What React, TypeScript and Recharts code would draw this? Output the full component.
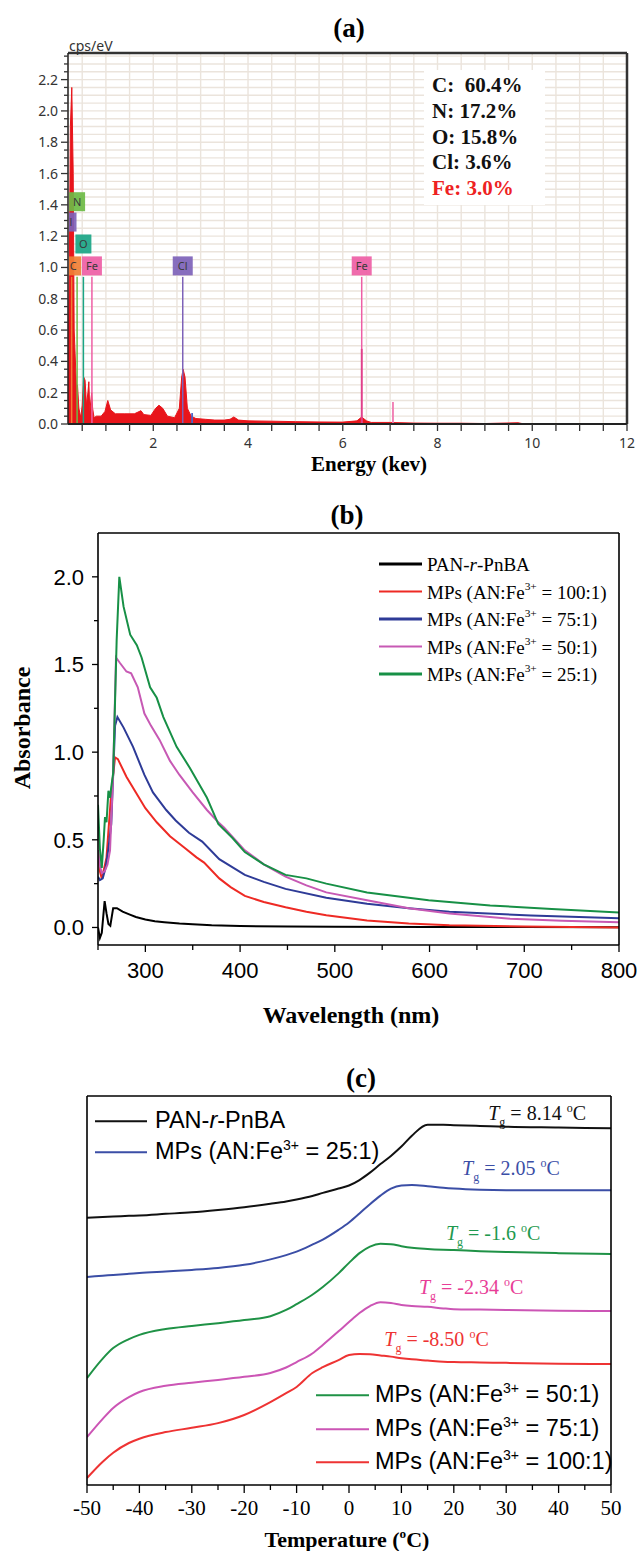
import React from 'react'
import {
  ComposedChart, Line, Area, XAxis, YAxis, CartesianGrid, ReferenceLine, ReferenceDot,
} from 'recharts'

// ---------- (a) EDS spectrum ----------
const edsEnergy = [
  0.2, 0.225, 0.25, 0.28, 0.31, 0.33, 0.35, 0.38, 0.4, 0.43,
  0.47, 0.5, 0.53, 0.56, 0.59, 0.62, 0.64, 0.66, 0.7, 0.72,
  0.75, 0.8, 0.9, 0.98, 1.04, 1.1, 1.2, 1.4, 1.6, 1.74,
  1.8, 1.95, 2.05, 2.12, 2.2, 2.3, 2.45, 2.55, 2.6, 2.63,
  2.67, 2.72, 2.8, 2.9, 3.1, 3.3, 3.5, 3.62, 3.7, 3.8,
  4.0, 4.5, 5.0, 5.5, 6.0, 6.3, 6.4, 6.5, 6.6, 7.0,
  7.5, 8.0, 8.5, 9.0, 9.7, 9.8, 10.0, 12.0,
]
const edsCps = [
  0.35, 0.9, 1.9, 2.15, 1.6, 0.6, 0.45, 0.22, 0.25, 0.1,
  0.04, 0.12, 0.3, 0.28, 0.12, 0.2, 0.27, 0.08, 0.2, 0.1,
  0.04, 0.05, 0.05, 0.08, 0.15, 0.09, 0.065, 0.065, 0.065, 0.085,
  0.06, 0.055, 0.1, 0.12, 0.1, 0.05, 0.04, 0.1, 0.3, 0.35,
  0.3, 0.1, 0.05, 0.035, 0.03, 0.025, 0.025, 0.03, 0.045, 0.025,
  0.02, 0.018, 0.015, 0.013, 0.012, 0.02, 0.045, 0.02, 0.01, 0.01,
  0.006, 0.005, 0.005, 0.003, 0.008, 0.002, 0, 0,
]
// element marker lines and their label boxes
const peakLabels = ['C', 'N', 'O', 'Fe', 'Cl', 'Fe']
const peakEnergy = [0.277, 0.392, 0.525, 0.705, 2.622, 6.4]
const peakBoxLevel = [1.01, 1.42, 1.15, 1.01, 1.01, 1.01]
const peakColors = ['#f07f35', '#6dbb45', '#1aa585', '#ee5ea5', '#7d62b8', '#ee5ea5']
const markerTop = 0.94
// box cut by the left edge (Cl L line)
const edgeBox = { label: 'Cl', energy: 0.2, level: 1.29, color: '#7d62b8' }
// thin fitted spikes
const spikeEnergy = [2.82, 6.4, 7.06]
const spikeHeight = [0.07, 0.48, 0.14]
const spikeColors = ['#4a63c8', '#e0408a', '#f07ab0']
const composition = ['C:  60.4%', 'N: 17.2%', 'O: 15.8%', 'Cl: 3.6%', 'Fe: 3.0%']
const edsXLabels = [2, 4, 6, 8, 10, 12]

// ---------- (b) UV-vis ----------
const wlBlack = [250, 252, 254, 257, 259, 261, 263, 266, 270, 276, 283, 290, 300, 310, 320, 336, 350, 370, 400, 450, 500, 600, 700, 800]
const absBlack = [0.0, -0.06, -0.03, 0.15, 0.08, 0.02, 0.01, 0.11, 0.11, 0.09, 0.075, 0.06, 0.045, 0.035, 0.03, 0.022, 0.018, 0.012, 0.008, 0.006, 0.004, 0.003, 0.002, 0.001]

const wlRed = [250, 252, 254, 257, 259, 261, 264, 268, 271, 280, 290, 300, 312, 326, 340, 354, 362, 378, 390, 405, 425, 448, 470, 491, 534, 578, 621, 700, 800]
const absRed = [0.44, 0.32, 0.28, 0.35, 0.4, 0.55, 0.77, 0.97, 0.96, 0.86, 0.77, 0.68, 0.6, 0.52, 0.46, 0.4, 0.37, 0.28, 0.23, 0.18, 0.145, 0.115, 0.09, 0.07, 0.04, 0.022, 0.012, 0.005, 0.0]

const wlBlue = [250, 252, 255, 258, 261, 264, 268, 270.5, 277, 287, 299, 308, 322, 332, 346, 360, 378, 405, 425, 448, 491, 534, 578, 621, 707, 800]
const absBlue = [0.29, 0.27, 0.28, 0.34, 0.45, 0.59, 1.15, 1.2, 1.14, 1.03, 0.87, 0.77, 0.67, 0.61, 0.54, 0.49, 0.39, 0.3, 0.26, 0.22, 0.17, 0.135, 0.11, 0.09, 0.068, 0.053]

const wlPink = [250, 252, 254, 257, 260, 262.7, 266, 269, 273, 280, 285, 292, 299, 306, 315, 326, 336, 350, 365, 377, 383, 405, 425, 448, 470, 491, 534, 578, 621, 685, 740, 800]
const absPink = [0.44, 0.35, 0.31, 0.32, 0.36, 0.44, 0.88, 1.54, 1.51, 1.46, 1.45, 1.37, 1.22, 1.15, 1.07, 0.95, 0.87, 0.77, 0.67, 0.6, 0.57, 0.44, 0.36, 0.29, 0.24, 0.2, 0.155, 0.11, 0.08, 0.05, 0.038, 0.03]

const wlGreen = [250, 252, 254, 256, 257.4, 259, 261, 262.7, 264, 266, 269.7, 272.5, 277, 284, 291, 296, 305, 312, 319, 333, 347, 365, 377, 392, 405, 425, 448, 470, 491, 534, 599, 664, 729, 800]
const absGreen = [0.7, 0.45, 0.34, 0.5, 0.63, 0.6, 0.78, 0.74, 0.8, 0.88, 1.64, 2.0, 1.83, 1.67, 1.61, 1.54, 1.37, 1.31, 1.2, 1.03, 0.91, 0.74, 0.59, 0.51, 0.43, 0.36, 0.3, 0.28, 0.25, 0.2, 0.155, 0.126, 0.105, 0.086]

const uvLegend = ['PAN-r-PnBA', '100:1', '75:1', '50:1', '25:1']
const uvColors = ['#000000', '#ee2a24', '#2e3b97', '#c759b4', '#179046']

// ---------- (c) DSC ----------
const dscTemp = [-50, -47, -45, -42, -40, -35, -30, -25, -20, -15, -12, -10, -7, -5, -2, 0, 2, 4, 6, 8, 10, 12, 15, 18, 20, 25, 30, 40, 50]
const dscPan = [68.7, 68.9, 69.0, 69.2, 69.3, 69.7, 70.1, 70.7, 71.4, 72.3, 72.9, 73.4, 74.3, 75.1, 76.2, 77.0, 78.4, 80.3, 82.5, 84.6, 87.0, 89.8, 92.6, 92.6, 92.5, 92.3, 92.1, 91.9, 91.7]
const dsc25 = [53.5, 53.8, 54.0, 54.3, 54.5, 54.9, 55.3, 55.8, 56.6, 58.0, 59.1, 60.0, 61.8, 63.1, 65.6, 67.5, 69.8, 72.2, 74.4, 76.2, 77.0, 77.1, 76.8, 76.4, 76.2, 75.9, 75.8, 75.8, 75.8]
const dsc50 = [27.5, 32.5, 35.2, 37.5, 38.6, 40.1, 40.9, 41.6, 42.4, 43.4, 45.0, 46.5, 48.9, 50.9, 54.4, 57.1, 59.6, 61.3, 62.0, 61.9, 61.4, 61.0, 60.7, 60.5, 60.4, 60.1, 59.9, 59.6, 59.4]
const dsc75 = [12.3, 17.0, 19.8, 22.6, 23.9, 25.5, 26.3, 27.0, 27.8, 28.8, 30.2, 31.6, 33.8, 36.0, 39.5, 41.9, 44.2, 46.0, 47.0, 46.8, 46.3, 46.0, 45.8, 45.4, 45.2, 45.1, 45.0, 44.8, 44.7]
const dsc100 = [1.8, 6.0, 8.3, 10.8, 11.9, 13.6, 14.7, 15.9, 18.0, 21.3, 23.6, 25.2, 28.8, 30.3, 32.1, 33.4, 33.7, 33.6, 33.3, 33.0, 32.6, 32.3, 32.0, 31.7, 31.6, 31.5, 31.4, 31.2, 31.1]

const tgLabels = ['8.14', '2.05', '-1.6', '-2.34', '-8.50']
const tgTemp = [35.9, 30.9, 27.5, 23.3, 16.7]
const tgLevel = [95.6, 81.5, 64.8, 50.9, 37.5]
const tgColors = ['#111111', '#3b4ea6', '#1f9a50', '#e83e97', '#ee3333']
const dscColors = { pan: '#111111', r25: '#3b4ea6', r50: '#1f9246', r75: '#cc55b5', r100: '#ee3333' }

const serif = '"Liberation Serif", "Times New Roman", serif'
const sans = '"Liberation Sans", Arial, sans-serif'
const uiSans = '"Noto Sans", "Open Sans", sans-serif'

// panel (a) frame
const aMargin = { top: 53, right: 11, bottom: 16, left: 8 }
const aYAxisWidth = 60
const aPlotLeft = aMargin.left + aYAxisWidth

function range(a: number, b: number, step: number) {
  const out: number[] = []
  for (let v = a; v <= b + 1e-9; v += step) out.push(+v.toFixed(3))
  return out
}
const isMult = (v: number, m: number) => Math.abs(v / m - Math.round(v / m)) < 1e-6

const edsData = edsEnergy.map((e, i) => ({ x: e, y: edsCps[i] }))
const pairs = (xs: number[], ys: number[]) => xs.map((x, i) => ({ x, y: ys[i] }))
const dscData = dscTemp.map((t, i) => ({
  t, pan: dscPan[i], r25: dsc25[i], r50: dsc50[i], r75: dsc75[i], r100: dsc100[i],
}))

function Txt({ x, y, size, bold, children, style }: any) {
  return (
    <div style={{
      position: 'absolute', left: x, top: y, transform: 'translate(-50%, -50%)',
      fontFamily: serif, fontSize: size, fontWeight: bold ? 'bold' : 'normal',
      whiteSpace: 'nowrap', lineHeight: 1, ...style,
    }}>{children}</div>
  )
}

const sup = { fontSize: '0.6em', verticalAlign: 'top', position: 'relative' as const, top: '-0.15em' }

// ---------- ticks ----------
function EdsXTick({ x, y, payload }: any) {
  const v = payload.value
  return (
    <g>
      <line x1={x} x2={x} y1={y} y2={y + 7} stroke="#333" strokeWidth={1.3} />
      {edsXLabels.includes(v) && (
        <text x={x} y={y + 24} textAnchor="middle" fontSize={14} fill="#333" fontFamily={uiSans}>{v}</text>
      )}
    </g>
  )
}
function EdsYTick({ x, y, payload }: any) {
  const v = payload.value
  const major = isMult(v, 0.2)
  return (
    <g>
      <line x1={x} x2={x - (major ? 7 : 4)} y1={y} y2={y} stroke="#333" strokeWidth={1.3} />
      {major && (
        <text x={x - 10} y={y + 5} textAnchor="end" fontSize={14} fill="#333" fontFamily={uiSans}>{v.toFixed(1)}</text>
      )}
    </g>
  )
}
function UvXTick({ x, y, payload }: any) {
  const v = payload.value
  const major = isMult(v, 100)
  return (
    <g>
      <line x1={x} x2={x} y1={y} y2={y + (major ? 7 : 5)} stroke="#000" strokeWidth={1.3} />
      {major && <text x={x} y={y + 33} textAnchor="middle" fontSize={22} fontFamily={sans}>{v}</text>}
    </g>
  )
}
function UvYTick({ x, y, payload }: any) {
  const v = payload.value
  const major = isMult(v, 0.5)
  return (
    <g>
      <line x1={x} x2={x - (major ? 6 : 4)} y1={y} y2={y} stroke="#000" strokeWidth={1.3} />
      {major && <text x={x - 14} y={y + 8} textAnchor="end" fontSize={22} fontFamily={sans}>{v.toFixed(1)}</text>}
    </g>
  )
}
function DscXTick({ x, y, payload }: any) {
  const v = payload.value
  const major = isMult(v, 10)
  return (
    <g>
      <line x1={x} x2={x} y1={y} y2={y + (major ? 8 : 5)} stroke="#000" strokeWidth={1.3} />
      {major && <text x={x} y={y + 30} textAnchor="middle" fontSize={21} fontFamily={serif}>{v}</text>}
    </g>
  )
}

// label box, clipped to the plot area so boxes at the left edge are cut like the reference
const boxShape = (label: string, color: string, id: string, shift = 0, w0 = 0) => (p: any) => {
  const w = w0 || (label.length > 1 ? 20 : 16)
  const cx = p.cx + shift
  return (
    <g clipPath={`url(#${id})`}>
      <defs>
        <clipPath id={id}><rect x={aPlotLeft + 1} y={0} width={600} height={480} /></clipPath>
      </defs>
      <rect x={cx - w / 2} y={p.cy - 9.5} width={w} height={19} fill={color} fillOpacity={0.92} />
      <text x={cx} y={p.cy + 4} textAnchor="middle" fontSize={11} fill="#3a3a3a" fontFamily={uiSans}>{label}</text>
    </g>
  )
}

const tgShape = (val: string, color: string) => (p: any) => (
  <text x={p.cx} y={p.cy + 7} textAnchor="middle" fontFamily={serif} fontSize={20} fill={color}>
    <tspan fontStyle="italic">T</tspan>
    <tspan fontSize={12} dy={6}>g</tspan>
    <tspan dy={-6}>{` = ${val} `}</tspan>
    <tspan fontSize={12} dy={-8}>o</tspan>
    <tspan dy={8}>C</tspan>
  </text>
)

function LegendRow({ x, y, color, lineW, gap, children, font, size }: any) {
  return (
    <div style={{ position: 'absolute', left: x, top: y, transform: 'translateY(-50%)', display: 'flex', alignItems: 'center', whiteSpace: 'nowrap', lineHeight: 1 }}>
      <div style={{ width: lineW, height: 2.5, background: color, marginRight: gap }} />
      <span style={{ fontFamily: font, fontSize: size }}>{children}</span>
    </div>
  )
}

function PanelA() {
  return (
    <div style={{ position: 'absolute', left: 0, top: 0, width: 638, height: 480 }}>
      <ComposedChart width={638} height={480} margin={aMargin}>
        <CartesianGrid stroke="#ebe4dc" strokeWidth={1.4} />
        <XAxis type="number" dataKey="x" domain={[0.2, 12]} allowDataOverflow ticks={range(0.5, 12, 0.5)} interval={0}
          tick={<EdsXTick />} tickLine={false} tickSize={0} tickMargin={0} height={40} axisLine={{ stroke: '#222', strokeWidth: 2 }} />
        <YAxis type="number" domain={[0, 2.37]} allowDataOverflow ticks={range(0, 2.35, 0.05)} interval={0}
          tick={<EdsYTick />} tickLine={false} tickSize={0} tickMargin={0} width={aYAxisWidth} axisLine={{ stroke: '#222', strokeWidth: 1.5 }} />
        <Area data={edsData} dataKey="y" type="linear" stroke="#e8151b" strokeWidth={1} fill="#e8151b" fillOpacity={1} isAnimationActive={false} />
        {peakEnergy.map((e, i) => (
          <ReferenceLine key={'m' + i} segment={[{ x: e, y: 0 }, { x: e, y: markerTop }]} stroke={peakColors[i]} strokeWidth={1.5} />
        ))}
        {spikeEnergy.map((e, i) => (
          <ReferenceLine key={'s' + i} segment={[{ x: e, y: 0 }, { x: e, y: spikeHeight[i] }]} stroke={spikeColors[i]} strokeWidth={1.8} />
        ))}
        <ReferenceDot x={edgeBox.energy} y={edgeBox.level} ifOverflow="visible"
          shape={boxShape(edgeBox.label, edgeBox.color, 'clipEdge', -0.5, 18)} />
        {peakEnergy.map((e, i) => (
          <ReferenceDot key={'b' + i} x={e} y={peakBoxLevel[i]} ifOverflow="visible"
            shape={boxShape(peakLabels[i], peakColors[i], 'clipBox' + i, i === 0 ? 1.5 : 0)} />
        ))}
        <ReferenceLine y={2.37} stroke="#333" strokeWidth={2.5} />
        <ReferenceLine x={12} stroke="#333" strokeWidth={2.5} />
      </ComposedChart>
      <Txt x={349} y={28} size={27} bold>(a)</Txt>
      <div style={{ position: 'absolute', left: 69, top: 39, fontFamily: uiSans, fontSize: 14, color: '#333', lineHeight: 1 }}>cps/eV</div>
      <div style={{ position: 'absolute', left: 424, top: 70, width: 121, height: 135, background: '#fff' }}>
        {composition.map((c, i) => (
          <div key={c} style={{
            position: 'absolute', left: 8, top: 15 + i * 25.8, transform: 'translateY(-50%)', whiteSpace: 'pre',
            fontFamily: serif, fontWeight: 'bold', fontSize: 21, lineHeight: 1, color: i === 4 ? '#ee2222' : '#111',
          }}>{c}</div>
        ))}
      </div>
      <Txt x={369} y={464} size={21} bold>Energy (kev)</Txt>
    </div>
  )
}

function PanelB() {
  const series = [
    pairs(wlBlack, absBlack), pairs(wlRed, absRed), pairs(wlBlue, absBlue), pairs(wlPink, absPink), pairs(wlGreen, absGreen),
  ]
  return (
    <div style={{ position: 'absolute', left: 0, top: 480, width: 638, height: 580 }}>
      <ComposedChart width={638} height={580} margin={{ top: 53, right: 19, bottom: 75, left: 38 }}>
        <XAxis type="number" dataKey="x" domain={[250, 800]} allowDataOverflow ticks={range(250, 800, 50)} interval={0}
          tick={<UvXTick />} tickLine={false} tickSize={0} tickMargin={0} height={40} axisLine={{ stroke: '#000', strokeWidth: 1.6 }} />
        <YAxis type="number" domain={[-0.1, 2.25]} allowDataOverflow ticks={range(0, 2, 0.25)} interval={0}
          tick={<UvYTick />} tickLine={false} tickSize={0} tickMargin={0} width={60} axisLine={{ stroke: '#000', strokeWidth: 1.6 }} />
        {series.map((d, k) => (
          <Line key={k} data={d} dataKey="y" type="linear" stroke={uvColors[k]} strokeWidth={2} dot={false} isAnimationActive={false} />
        ))}
        <ReferenceLine y={2.25} stroke="#000" strokeWidth={1.6} />
        <ReferenceLine x={800} stroke="#000" strokeWidth={1.6} />
      </ComposedChart>
      <Txt x={347} y={35} size={27} bold>(b)</Txt>
      <Txt x={22} y={248} size={24} bold style={{ transform: 'translate(-50%, -50%) rotate(-90deg)' }}>Absorbance</Txt>
      <Txt x={351} y={535} size={24} bold>Wavelength (nm)</Txt>
      {uvLegend.map((lab, i) => (
        <LegendRow key={lab} x={379} y={84 + i * 27.5} color={uvColors[i]} lineW={43} gap={5} font={serif} size={19}>
          {i === 0
            ? <>PAN-<i>r</i>-PnBA</>
            : <>MPs (AN:Fe<span style={sup}>3+</span> = {lab})</>}
        </LegendRow>
      ))}
    </div>
  )
}

function PanelC() {
  const keys = ['pan', 'r25', 'r50', 'r75', 'r100'] as const
  return (
    <div style={{ position: 'absolute', left: 0, top: 1060, width: 638, height: 491 }}>
      <ComposedChart width={638} height={491} data={dscData} margin={{ top: 36, right: 27, bottom: 26, left: 77 }}>
        <XAxis type="number" dataKey="t" domain={[-50, 50]} allowDataOverflow ticks={range(-50, 50, 5)} interval={0}
          tick={<DscXTick />} tickLine={false} tickSize={0} tickMargin={0} height={40} axisLine={{ stroke: '#000', strokeWidth: 1.6 }} />
        <YAxis type="number" domain={[0, 100]} allowDataOverflow tick={false} tickLine={false} width={10} axisLine={{ stroke: '#000', strokeWidth: 1.6 }} />
        {keys.map((k) => (
          <Line key={k} dataKey={k} type="monotone" stroke={dscColors[k]} strokeWidth={2} dot={false} isAnimationActive={false} />
        ))}
        {tgLabels.map((v, i) => (
          <ReferenceDot key={v} x={tgTemp[i]} y={tgLevel[i]} ifOverflow="visible" shape={tgShape(v, tgColors[i])} />
        ))}
        <ReferenceLine y={100} stroke="#000" strokeWidth={1.6} />
        <ReferenceLine x={50} stroke="#000" strokeWidth={1.6} />
      </ComposedChart>
      <Txt x={361} y={18} size={27} bold>(c)</Txt>
      <Txt x={347} y={480} size={22} bold>Temperature (<span style={sup}>o</span>C)</Txt>
      <LegendRow x={95} y={61} color={dscColors.pan} lineW={52} gap={8} font={sans} size={23.5}>PAN-<i>r</i>-PnBA</LegendRow>
      <LegendRow x={95} y={92} color={dscColors.r25} lineW={52} gap={8} font={sans} size={23.5}>MPs (AN:Fe<span style={sup}>3+</span> = 25:1)</LegendRow>
      <LegendRow x={316} y={335} color={dscColors.r50} lineW={53} gap={6} font={sans} size={23.5}>MPs (AN:Fe<span style={sup}>3+</span> = 50:1)</LegendRow>
      <LegendRow x={316} y={369} color={dscColors.r75} lineW={53} gap={6} font={sans} size={23.5}>MPs (AN:Fe<span style={sup}>3+</span> = 75:1)</LegendRow>
      <LegendRow x={316} y={402} color={dscColors.r100} lineW={53} gap={6} font={sans} size={23.5}>MPs (AN:Fe<span style={sup}>3+</span> = 100:1)</LegendRow>
    </div>
  )
}

export default function App() {
  return (
    <div style={{ position: 'absolute', left: 0, top: 0, width: 638, height: 1551, background: '#fff', overflow: 'hidden' }}>
      <PanelA />
      <PanelB />
      <PanelC />
    </div>
  )
}
